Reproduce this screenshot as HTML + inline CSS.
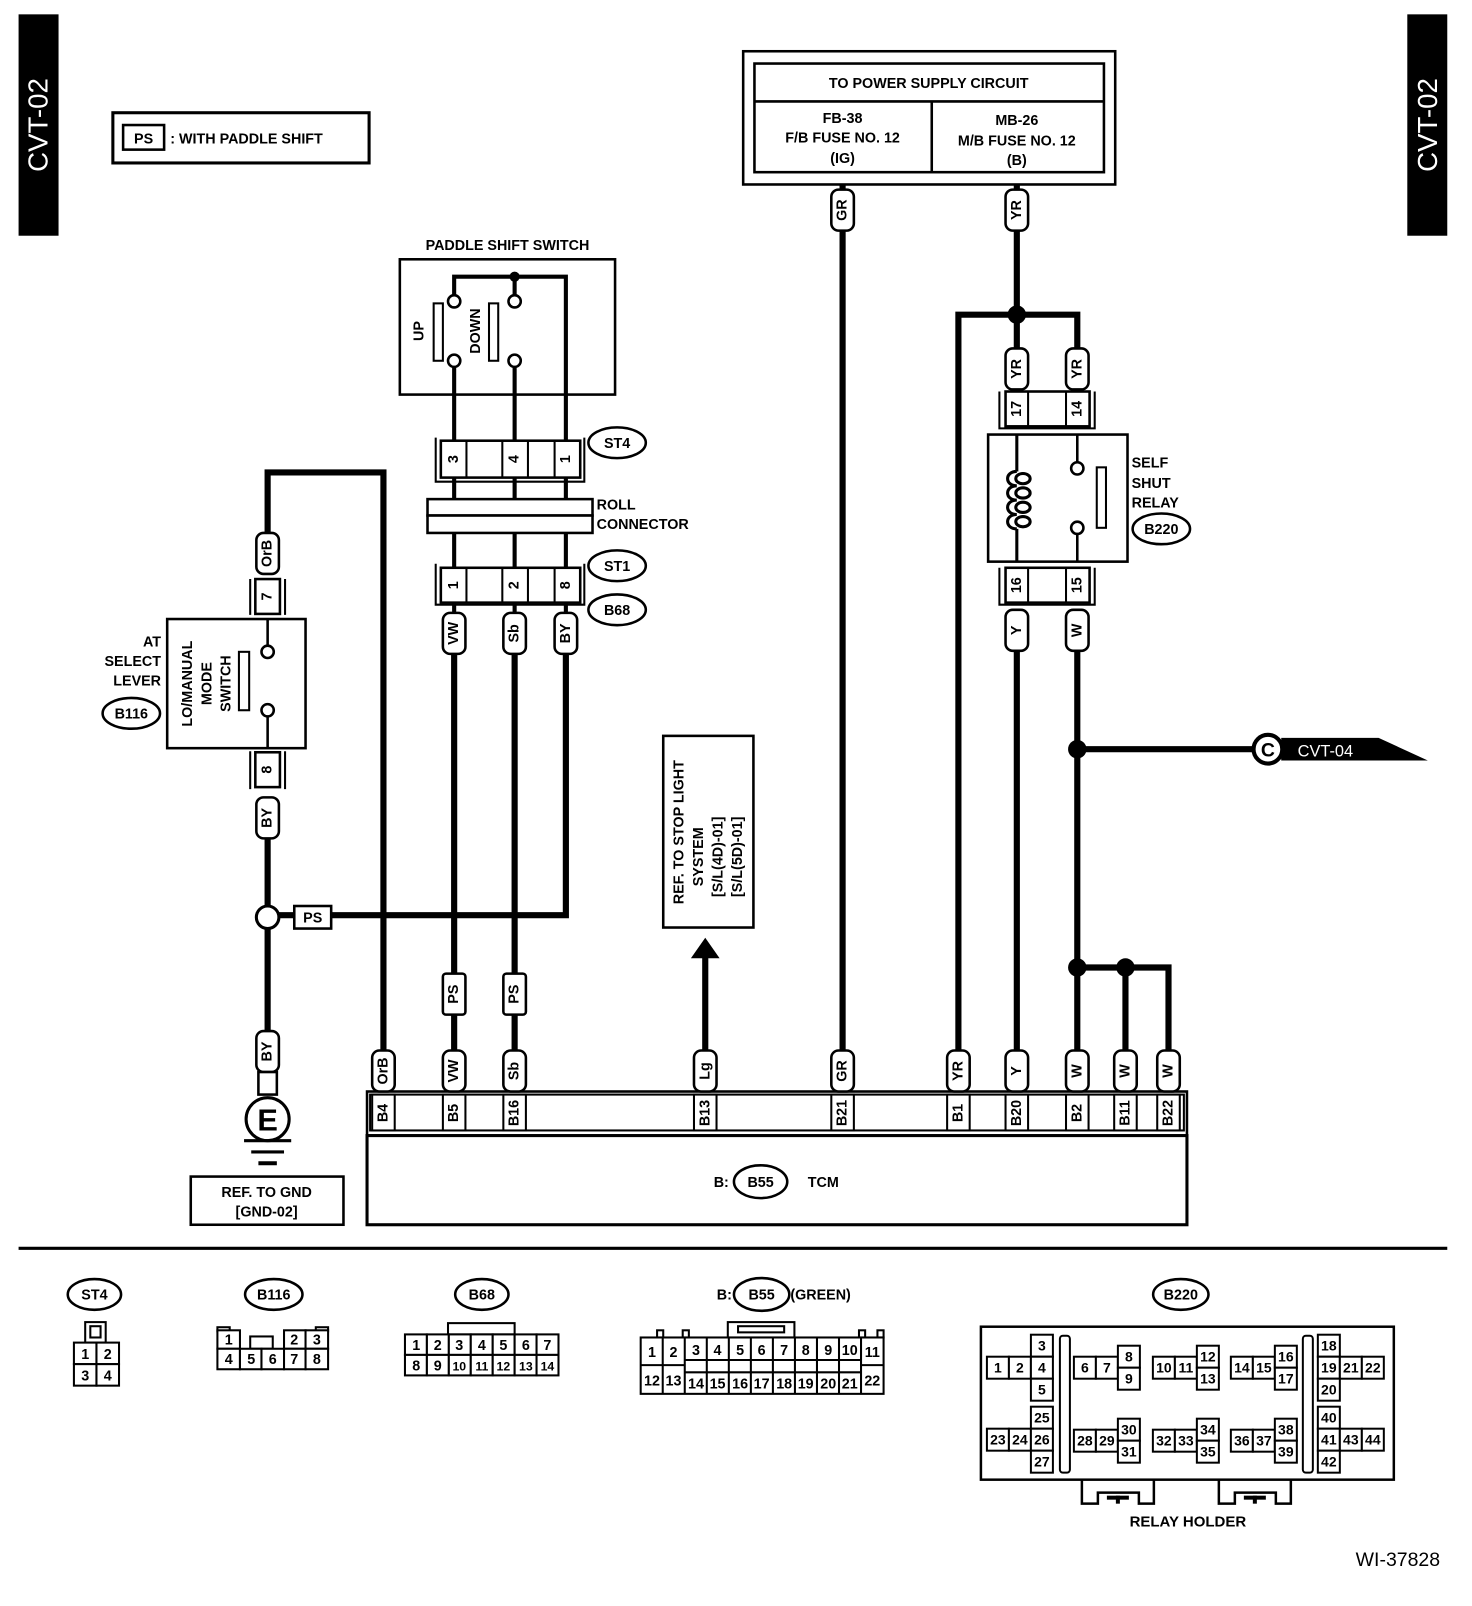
<!DOCTYPE html>
<html><head><meta charset="utf-8"><style>
html,body{margin:0;padding:0;background:#fff}
svg{display:block}
text{font-family:"Liberation Sans",sans-serif;font-weight:bold;font-size:14px;fill:#000}
.n{font-weight:normal;font-size:14px}
.w6{stroke:#000;stroke-width:6;fill:none}
.w4{stroke:#000;stroke-width:4;fill:none}
.b{stroke:#000;stroke-width:2.5;fill:#fff}
.t{stroke:#000;stroke-width:2;fill:#fff}
</style></head><body>
<svg width="1472" height="1606" viewBox="0 0 1436 1567" xmlns="http://www.w3.org/2000/svg">
<rect x="18" y="14" width="39" height="216" fill="#000"/>
<text transform="translate(46,122) rotate(-90)" text-anchor="middle" style="fill:#fff;font-size:27px;font-weight:normal">CVT-02</text>
<rect x="1373" y="14" width="39" height="216" fill="#000"/>
<text transform="translate(1402,122) rotate(-90)" text-anchor="middle" style="fill:#fff;font-size:27px;font-weight:normal">CVT-02</text>

<rect x="110" y="110" width="250" height="49" fill="none" stroke="#000" stroke-width="3"/>
<rect x="120" y="122" width="40" height="24" fill="none" stroke="#000" stroke-width="2.5"/>
<text x="140" y="140" text-anchor="middle">PS</text>
<text x="166" y="140" style="font-size:14px">: WITH PADDLE SHIFT</text>

<rect x="725" y="50" width="363" height="130" fill="none" stroke="#000" stroke-width="2.5"/>
<rect x="736" y="62" width="341" height="106" fill="none" stroke="#000" stroke-width="2.5"/>
<line x1="736" y1="99" x2="1077" y2="99" stroke="#000" stroke-width="2.5"/>
<line x1="909" y1="99" x2="909" y2="168" stroke="#000" stroke-width="2.5"/>
<text x="906" y="86" text-anchor="middle">TO POWER SUPPLY CIRCUIT</text>
<text x="822" y="120" text-anchor="middle">FB-38</text>
<text x="822" y="139" text-anchor="middle">F/B FUSE NO. 12</text>
<text x="822" y="159" text-anchor="middle">(IG)</text>
<text x="992" y="122" text-anchor="middle">MB-26</text>
<text x="992" y="142" text-anchor="middle">M/B FUSE NO. 12</text>
<text x="992" y="161" text-anchor="middle">(B)</text>

<g class="w6">
<line x1="822" y1="180" x2="822" y2="1030"/>
<line x1="992" y1="180" x2="992" y2="345"/>
<path d="M935,1030 V307 H1051 V345"/>
<line x1="992" y1="630" x2="992" y2="1030"/>
<line x1="1051" y1="630" x2="1051" y2="1030"/>
<line x1="1051" y1="731" x2="1225" y2="731"/>
<path d="M1051,944 H1140 V1030"/>
<line x1="1098" y1="944" x2="1098" y2="1030"/>
<line x1="443" y1="630" x2="443" y2="1030"/>
<line x1="502" y1="630" x2="502" y2="1030"/>
<path d="M552,630 V893 H272"/>
<path d="M261,525 V461 H374 V1030"/>
<line x1="261" y1="810" x2="261" y2="1010"/>
<line x1="688" y1="930" x2="688" y2="1030"/>
</g>
<circle cx="992" cy="307" r="9" fill="#000"/>
<circle cx="1051" cy="731" r="9" fill="#000"/>
<circle cx="1051" cy="944" r="9" fill="#000"/>
<circle cx="1098" cy="944" r="9" fill="#000"/>
<polygon points="674,935 702,935 688,915" fill="#000"/>

<polygon points="1250,720 1345,720 1393,742 1250,742" fill="#000"/>
<circle cx="1237" cy="731" r="14" fill="#fff" stroke="#000" stroke-width="4"/>
<text x="1237" y="738" text-anchor="middle" style="font-size:19px">C</text>
<text x="1266" y="738" style="fill:#fff;font-weight:normal;font-size:16px">CVT-04</text>

<text x="495" y="244" text-anchor="middle">PADDLE SHIFT SWITCH</text>
<rect x="390" y="253" width="210" height="132" fill="none" stroke="#000" stroke-width="2.5"/>
<g class="w4">
<path d="M443,288 V270 H552 V598"/>
<line x1="502" y1="270" x2="502" y2="288"/>
<line x1="443" y1="358" x2="443" y2="598"/>
<line x1="502" y1="358" x2="502" y2="598"/>
</g>
<circle cx="502" cy="270" r="5" fill="#000"/>
<circle cx="443" cy="294" r="6" class="b"/><circle cx="443" cy="352" r="6" class="b"/>
<circle cx="502" cy="294" r="6" class="b"/><circle cx="502" cy="352" r="6" class="b"/>
<rect x="423" y="296" width="9" height="56" class="t"/>
<rect x="477" y="296" width="9" height="56" class="t"/>
<text transform="translate(413,323) rotate(-90)" text-anchor="middle">UP</text>
<text transform="translate(468,323) rotate(-90)" text-anchor="middle">DOWN</text>

<path d="M425,427 V470 H570 V427" fill="none" stroke="#000" stroke-width="2"/>
<rect x="430" y="430" width="136" height="36" class="b"/>
<g stroke="#000" stroke-width="2"><line x1="455" y1="430" x2="455" y2="466"/><line x1="490" y1="430" x2="490" y2="466"/><line x1="515" y1="430" x2="515" y2="466"/><line x1="541" y1="430" x2="541" y2="466"/></g>
<text transform="translate(443,448) rotate(-90)" text-anchor="middle" dominant-baseline="central">3</text>
<text transform="translate(502,448) rotate(-90)" text-anchor="middle" dominant-baseline="central">4</text>
<text transform="translate(552,448) rotate(-90)" text-anchor="middle" dominant-baseline="central">1</text>
<ellipse cx="602" cy="432" rx="28" ry="15" class="b"/>
<text x="602" y="437" text-anchor="middle">ST4</text>

<rect x="417" y="487" width="161" height="16" class="b"/>
<rect x="417" y="503" width="161" height="17" class="b"/>
<text x="582" y="497">ROLL</text>
<text x="582" y="516">CONNECTOR</text>

<path d="M425,550 V590 H570 V550" fill="none" stroke="#000" stroke-width="2"/>
<rect x="430" y="554" width="136" height="34" class="b"/>
<g stroke="#000" stroke-width="2"><line x1="455" y1="554" x2="455" y2="588"/><line x1="490" y1="554" x2="490" y2="588"/><line x1="515" y1="554" x2="515" y2="588"/><line x1="541" y1="554" x2="541" y2="588"/></g>
<text transform="translate(443,571) rotate(-90)" text-anchor="middle" dominant-baseline="central">1</text>
<text transform="translate(502,571) rotate(-90)" text-anchor="middle" dominant-baseline="central">2</text>
<text transform="translate(552,571) rotate(-90)" text-anchor="middle" dominant-baseline="central">8</text>
<ellipse cx="602" cy="552" rx="28" ry="15" class="b"/>
<text x="602" y="557" text-anchor="middle">ST1</text>
<ellipse cx="602" cy="595" rx="28" ry="15" class="b"/>
<text x="602" y="600" text-anchor="middle">B68</text>

<g>
<rect x="432" y="598" width="22" height="40" rx="7" class="b"/><text transform="translate(443,618) rotate(-90)" text-anchor="middle" dominant-baseline="central">VW</text>
<rect x="491" y="598" width="22" height="40" rx="7" class="b"/><text transform="translate(502,618) rotate(-90)" text-anchor="middle" dominant-baseline="central">Sb</text>
<rect x="541" y="598" width="22" height="40" rx="7" class="b"/><text transform="translate(552,618) rotate(-90)" text-anchor="middle" dominant-baseline="central">BY</text>
<rect x="432" y="950" width="22" height="40" rx="3" class="b"/><text transform="translate(443,970) rotate(-90)" text-anchor="middle" dominant-baseline="central">PS</text>
<rect x="491" y="950" width="22" height="40" rx="3" class="b"/><text transform="translate(502,970) rotate(-90)" text-anchor="middle" dominant-baseline="central">PS</text>
<rect x="811" y="185" width="22" height="40" rx="7" class="b"/><text transform="translate(822,205) rotate(-90)" text-anchor="middle" dominant-baseline="central">GR</text>
<rect x="981" y="185" width="22" height="40" rx="7" class="b"/><text transform="translate(992,205) rotate(-90)" text-anchor="middle" dominant-baseline="central">YR</text>
<rect x="981" y="340" width="22" height="40" rx="7" class="b"/><text transform="translate(992,360) rotate(-90)" text-anchor="middle" dominant-baseline="central">YR</text>
<rect x="1040" y="340" width="22" height="40" rx="7" class="b"/><text transform="translate(1051,360) rotate(-90)" text-anchor="middle" dominant-baseline="central">YR</text>
<rect x="981" y="595" width="22" height="40" rx="7" class="b"/><text transform="translate(992,615) rotate(-90)" text-anchor="middle" dominant-baseline="central">Y</text>
<rect x="1040" y="595" width="22" height="40" rx="7" class="b"/><text transform="translate(1051,615) rotate(-90)" text-anchor="middle" dominant-baseline="central">W</text>
<rect x="250" y="520" width="22" height="40" rx="7" class="b"/><text transform="translate(261,540) rotate(-90)" text-anchor="middle" dominant-baseline="central">OrB</text>
<rect x="250" y="778" width="22" height="40" rx="7" class="b"/><text transform="translate(261,798) rotate(-90)" text-anchor="middle" dominant-baseline="central">BY</text>
<rect x="250" y="1006" width="22" height="40" rx="7" class="b"/><text transform="translate(261,1026) rotate(-90)" text-anchor="middle" dominant-baseline="central">BY</text>
</g>

<path d="M975,382 V418 H1068 V382" fill="none" stroke="#000" stroke-width="2"/>
<rect x="981" y="382" width="82" height="34" class="b"/>
<g stroke="#000" stroke-width="2"><line x1="1003" y1="382" x2="1003" y2="416"/><line x1="1040" y1="382" x2="1040" y2="416"/></g>
<text transform="translate(992,399) rotate(-90)" text-anchor="middle" dominant-baseline="central">17</text>
<text transform="translate(1051,399) rotate(-90)" text-anchor="middle" dominant-baseline="central">14</text>
<rect x="964" y="424" width="136" height="124" fill="none" stroke="#000" stroke-width="2.5"/>
<g fill="none" stroke="#000" stroke-width="3">
<path d="M992,424 V460 M992,516 V548"/>
<path d="M992,460 C980,460 980,474 992,474 M992,474 C980,474 980,488 992,488 M992,488 C980,488 980,502 992,502 M992,502 C980,502 980,516 992,516"/>
<ellipse cx="998" cy="467" rx="7" ry="5"/><ellipse cx="998" cy="481" rx="7" ry="5"/><ellipse cx="998" cy="495" rx="7" ry="5"/><ellipse cx="998" cy="509" rx="7" ry="5"/>
</g>
<g stroke="#000" stroke-width="2.5">
<line x1="1051" y1="424" x2="1051" y2="451"/>
<line x1="1051" y1="521" x2="1051" y2="548"/>
</g>
<circle cx="1051" cy="457" r="6" class="b"/><circle cx="1051" cy="515" r="6" class="b"/>
<rect x="1070" y="456" width="9" height="59" class="t"/>
<text x="1104" y="456">SELF</text>
<text x="1104" y="476">SHUT</text>
<text x="1104" y="495">RELAY</text>
<ellipse cx="1133" cy="516" rx="28" ry="15" class="b"/>
<text x="1133" y="521" text-anchor="middle">B220</text>
<path d="M975,554 V590 H1068 V554" fill="none" stroke="#000" stroke-width="2"/>
<rect x="981" y="554" width="82" height="34" class="b"/>
<g stroke="#000" stroke-width="2"><line x1="1003" y1="554" x2="1003" y2="588"/><line x1="1040" y1="554" x2="1040" y2="588"/></g>
<text transform="translate(992,571) rotate(-90)" text-anchor="middle" dominant-baseline="central">16</text>
<text transform="translate(1051,571) rotate(-90)" text-anchor="middle" dominant-baseline="central">15</text>

<path d="M244,565 V600 M278,565 V600" stroke="#000" stroke-width="2"/>
<rect x="249" y="565" width="24" height="34" class="b"/>
<text transform="translate(261,582) rotate(-90)" text-anchor="middle" dominant-baseline="central">7</text>
<rect x="163" y="604" width="135" height="126" fill="#fff" stroke="#000" stroke-width="2.5"/>
<g stroke="#000" stroke-width="2.5"><line x1="261" y1="604" x2="261" y2="630"/><line x1="261" y1="699" x2="261" y2="730"/></g>
<circle cx="261" cy="636" r="6" class="b"/><circle cx="261" cy="693" r="6" class="b"/>
<rect x="233" y="636" width="10" height="57" class="t"/>
<text transform="translate(187,667) rotate(-90)" text-anchor="middle">LO/MANUAL</text>
<text transform="translate(206,667) rotate(-90)" text-anchor="middle">MODE</text>
<text transform="translate(225,667) rotate(-90)" text-anchor="middle">SWITCH</text>
<text x="157" y="631" text-anchor="end">AT</text>
<text x="157" y="650" text-anchor="end">SELECT</text>
<text x="157" y="669" text-anchor="end">LEVER</text>
<ellipse cx="128" cy="696" rx="28" ry="15" class="b"/>
<text x="128" y="701" text-anchor="middle">B116</text>
<path d="M244,733 V770 M278,733 V770" stroke="#000" stroke-width="2"/>
<rect x="249" y="734" width="24" height="34" class="b"/>
<text transform="translate(261,751) rotate(-90)" text-anchor="middle" dominant-baseline="central">8</text>
<circle cx="261" cy="895" r="11" fill="#fff" stroke="#000" stroke-width="3"/>
<rect x="287" y="884" width="36" height="22" class="b"/>
<text x="305" y="900" text-anchor="middle">PS</text>
<rect x="252" y="1046" width="18" height="22" class="b"/>
<circle cx="261" cy="1092" r="21" fill="#fff" stroke="#000" stroke-width="3"/>
<text x="261" y="1103" text-anchor="middle" style="font-size:30px">E</text>
<g stroke="#000"><line x1="238" y1="1113" x2="284" y2="1113" stroke-width="3"/><line x1="245" y1="1124" x2="277" y2="1124" stroke-width="3"/><line x1="252" y1="1135" x2="270" y2="1135" stroke-width="4"/></g>
<rect x="186" y="1148" width="149" height="47" fill="none" stroke="#000" stroke-width="2.5"/>
<text x="260" y="1168" text-anchor="middle">REF. TO GND</text>
<text x="260" y="1187" text-anchor="middle">[GND-02]</text>

<rect x="647" y="718" width="88" height="187" fill="none" stroke="#000" stroke-width="2.5"/>
<text transform="translate(667,812) rotate(-90)" text-anchor="middle">REF. TO STOP LIGHT</text>
<text transform="translate(686,812) rotate(-90)" x="-24" text-anchor="middle">SYSTEM</text>
<text transform="translate(705,812) rotate(-90)" x="-24" text-anchor="middle">[S/L(4D)-01]</text>
<text transform="translate(724,812) rotate(-90)" x="-24" text-anchor="middle">[S/L(5D)-01]</text>

<rect x="358" y="1065" width="800" height="43" fill="none" stroke="#000" stroke-width="2.5"/>
<rect x="361" y="1068" width="794" height="35" fill="none" stroke="#000" stroke-width="2"/>
<rect x="358" y="1108" width="800" height="87" fill="none" stroke="#000" stroke-width="3"/>
<g>
<rect x="363" y="1025" width="22" height="40" rx="7" class="b"/><text transform="translate(374,1045) rotate(-90)" text-anchor="middle" dominant-baseline="central">OrB</text>
<rect x="363" y="1068" width="22" height="35" class="t"/><text transform="translate(374,1086) rotate(-90)" text-anchor="middle" dominant-baseline="central">B4</text>
<rect x="432" y="1025" width="22" height="40" rx="7" class="b"/><text transform="translate(443,1045) rotate(-90)" text-anchor="middle" dominant-baseline="central">VW</text>
<rect x="432" y="1068" width="22" height="35" class="t"/><text transform="translate(443,1086) rotate(-90)" text-anchor="middle" dominant-baseline="central">B5</text>
<rect x="491" y="1025" width="22" height="40" rx="7" class="b"/><text transform="translate(502,1045) rotate(-90)" text-anchor="middle" dominant-baseline="central">Sb</text>
<rect x="491" y="1068" width="22" height="35" class="t"/><text transform="translate(502,1086) rotate(-90)" text-anchor="middle" dominant-baseline="central">B16</text>
<rect x="677" y="1025" width="22" height="40" rx="7" class="b"/><text transform="translate(688,1045) rotate(-90)" text-anchor="middle" dominant-baseline="central">Lg</text>
<rect x="677" y="1068" width="22" height="35" class="t"/><text transform="translate(688,1086) rotate(-90)" text-anchor="middle" dominant-baseline="central">B13</text>
<rect x="811" y="1025" width="22" height="40" rx="7" class="b"/><text transform="translate(822,1045) rotate(-90)" text-anchor="middle" dominant-baseline="central">GR</text>
<rect x="811" y="1068" width="22" height="35" class="t"/><text transform="translate(822,1086) rotate(-90)" text-anchor="middle" dominant-baseline="central">B21</text>
<rect x="924" y="1025" width="22" height="40" rx="7" class="b"/><text transform="translate(935,1045) rotate(-90)" text-anchor="middle" dominant-baseline="central">YR</text>
<rect x="924" y="1068" width="22" height="35" class="t"/><text transform="translate(935,1086) rotate(-90)" text-anchor="middle" dominant-baseline="central">B1</text>
<rect x="981" y="1025" width="22" height="40" rx="7" class="b"/><text transform="translate(992,1045) rotate(-90)" text-anchor="middle" dominant-baseline="central">Y</text>
<rect x="981" y="1068" width="22" height="35" class="t"/><text transform="translate(992,1086) rotate(-90)" text-anchor="middle" dominant-baseline="central">B20</text>
<rect x="1040" y="1025" width="22" height="40" rx="7" class="b"/><text transform="translate(1051,1045) rotate(-90)" text-anchor="middle" dominant-baseline="central">W</text>
<rect x="1040" y="1068" width="22" height="35" class="t"/><text transform="translate(1051,1086) rotate(-90)" text-anchor="middle" dominant-baseline="central">B2</text>
<rect x="1087" y="1025" width="22" height="40" rx="7" class="b"/><text transform="translate(1098,1045) rotate(-90)" text-anchor="middle" dominant-baseline="central">W</text>
<rect x="1087" y="1068" width="22" height="35" class="t"/><text transform="translate(1098,1086) rotate(-90)" text-anchor="middle" dominant-baseline="central">B11</text>
<rect x="1129" y="1025" width="22" height="40" rx="7" class="b"/><text transform="translate(1140,1045) rotate(-90)" text-anchor="middle" dominant-baseline="central">W</text>
<rect x="1129" y="1068" width="22" height="35" class="t"/><text transform="translate(1140,1086) rotate(-90)" text-anchor="middle" dominant-baseline="central">B22</text>
</g>
<text x="711" y="1158" text-anchor="end">B:</text>
<ellipse cx="742" cy="1153" rx="26" ry="16" class="b"/>
<text x="742" y="1158" text-anchor="middle">B55</text>
<text x="788" y="1158">TCM</text>

<line x1="18" y1="1218" x2="1412" y2="1218" stroke="#000" stroke-width="3"/>

<ellipse cx="92" cy="1263" rx="26" ry="15" class="b"/><text x="92" y="1268" text-anchor="middle">ST4</text>
<rect x="83" y="1290" width="20" height="20" class="t"/><rect x="88" y="1294" width="10" height="11" class="t"/>
<g class="t"><rect x="72" y="1310" width="22" height="21"/><rect x="94" y="1310" width="22" height="21"/><rect x="72" y="1331" width="22" height="21"/><rect x="94" y="1331" width="22" height="21"/></g>
<g class="n" text-anchor="middle"><text x="83" y="1326">1</text><text x="105" y="1326">2</text><text x="83" y="1347">3</text><text x="105" y="1347">4</text></g>

<ellipse cx="267" cy="1263" rx="28" ry="15" class="b"/><text x="267" y="1268" text-anchor="middle">B116</text>
<g class="t">
<rect x="212" y="1295" width="12" height="4"/><rect x="308" y="1295" width="12" height="4"/>
<rect x="212" y="1298" width="22" height="18"/><rect x="244" y="1304" width="22" height="12"/>
<rect x="277" y="1298" width="21" height="18"/><rect x="298" y="1298" width="22" height="18"/>
<rect x="212" y="1316" width="22" height="20"/><rect x="234" y="1316" width="21" height="20"/><rect x="255" y="1316" width="22" height="20"/><rect x="277" y="1316" width="21" height="20"/><rect x="298" y="1316" width="22" height="20"/>
</g>
<g class="n" text-anchor="middle"><text x="223" y="1312">1</text><text x="287" y="1312">2</text><text x="309" y="1312">3</text>
<text x="223" y="1331">4</text><text x="245" y="1331">5</text><text x="266" y="1331">6</text><text x="287" y="1331">7</text><text x="309" y="1331">8</text></g>

<ellipse cx="470" cy="1263" rx="26" ry="15" class="b"/><text x="470" y="1268" text-anchor="middle">B68</text>
<rect x="437" y="1291" width="65" height="11" class="t"/>
<g class="t">
<rect x="395" y="1302" width="21.4" height="20"/><rect x="416.4" y="1302" width="21.4" height="20"/><rect x="437.8" y="1302" width="21.4" height="20"/><rect x="459.2" y="1302" width="21.4" height="20"/><rect x="480.6" y="1302" width="21.4" height="20"/><rect x="502" y="1302" width="21.4" height="20"/><rect x="523.4" y="1302" width="21.4" height="20"/>
<rect x="395" y="1322" width="21.4" height="20"/><rect x="416.4" y="1322" width="21.4" height="20"/><rect x="437.8" y="1322" width="21.4" height="20"/><rect x="459.2" y="1322" width="21.4" height="20"/><rect x="480.6" y="1322" width="21.4" height="20"/><rect x="502" y="1322" width="21.4" height="20"/><rect x="523.4" y="1322" width="21.4" height="20"/>
</g>
<g class="n" text-anchor="middle">
<text x="406" y="1317">1</text><text x="427" y="1317">2</text><text x="448" y="1317">3</text><text x="470" y="1317">4</text><text x="491" y="1317">5</text><text x="513" y="1317">6</text><text x="534" y="1317">7</text>
<text x="406" y="1337">8</text><text x="427" y="1337">9</text><text x="448" y="1337" style="font-size:12px">10</text><text x="470" y="1337" style="font-size:12px">11</text><text x="491" y="1337" style="font-size:12px">12</text><text x="513" y="1337" style="font-size:12px">13</text><text x="534" y="1337" style="font-size:12px">14</text></g>

<text x="714" y="1268" text-anchor="end">B:</text>
<ellipse cx="743" cy="1263" rx="27" ry="16" class="b"/><text x="743" y="1268" text-anchor="middle">B55</text>
<text x="771" y="1268">(GREEN)</text>
<rect x="710" y="1290" width="65" height="15" class="t"/><rect x="720" y="1294" width="45" height="6" class="t"/>
<g class="t">
<rect x="641" y="1298" width="6" height="7"/><rect x="666" y="1298" width="6" height="7"/><rect x="838" y="1298" width="6" height="7"/><rect x="856" y="1298" width="6" height="7"/>
<rect x="625" y="1305" width="237" height="55"/>
</g>
<g stroke="#000" stroke-width="2">
<line x1="668" y1="1327" x2="840" y2="1327"/><line x1="668" y1="1339" x2="840" y2="1339"/>
<line x1="625" y1="1332" x2="668" y2="1332"/><line x1="840" y1="1332" x2="862" y2="1332"/>
<line x1="646.5" y1="1305" x2="646.5" y2="1360"/><line x1="668" y1="1305" x2="668" y2="1360"/><line x1="689.5" y1="1305" x2="689.5" y2="1360"/><line x1="711" y1="1305" x2="711" y2="1360"/><line x1="732.5" y1="1305" x2="732.5" y2="1360"/><line x1="754" y1="1305" x2="754" y2="1360"/><line x1="775.5" y1="1305" x2="775.5" y2="1360"/><line x1="797" y1="1305" x2="797" y2="1360"/><line x1="818.5" y1="1305" x2="818.5" y2="1360"/><line x1="840" y1="1305" x2="840" y2="1360"/>
</g>
<g class="n" text-anchor="middle" style="font-size:13px">
<text x="636" y="1324">1</text><text x="657" y="1324">2</text><text x="679" y="1322">3</text><text x="700" y="1322">4</text><text x="722" y="1322">5</text><text x="743" y="1322">6</text><text x="765" y="1322">7</text><text x="786" y="1322">8</text><text x="808" y="1322">9</text><text x="829" y="1322">10</text><text x="851" y="1324">11</text>
<text x="636" y="1352">12</text><text x="657" y="1352">13</text><text x="679" y="1355">14</text><text x="700" y="1355">15</text><text x="722" y="1355">16</text><text x="743" y="1355">17</text><text x="765" y="1355">18</text><text x="786" y="1355">19</text><text x="808" y="1355">20</text><text x="829" y="1355">21</text><text x="851" y="1352">22</text></g>

<ellipse cx="1152" cy="1263" rx="27" ry="15" class="b"/><text x="1152" y="1268" text-anchor="middle">B220</text>
<g transform="scale(0.9755)">
<rect x="981" y="1327" width="413" height="153" class="b"/>
<rect x="1060" y="1336" width="10" height="137" rx="3" class="t"/>
<rect x="1303" y="1336" width="10" height="137" rx="3" class="t"/>
<g class="t">
<rect x="987" y="1357" width="22" height="22"/><rect x="1009" y="1357" width="22" height="22"/><rect x="1031" y="1335" width="22" height="22"/><rect x="1031" y="1357" width="22" height="22"/><rect x="1031" y="1379" width="22" height="22"/>
<rect x="987" y="1429" width="22" height="22"/><rect x="1009" y="1429" width="22" height="22"/><rect x="1031" y="1407" width="22" height="22"/><rect x="1031" y="1429" width="22" height="22"/><rect x="1031" y="1451" width="22" height="22"/>
<rect x="1074" y="1357" width="22" height="22"/><rect x="1096" y="1357" width="22" height="22"/><rect x="1118" y="1346" width="22" height="22"/><rect x="1118" y="1368" width="22" height="22"/>
<rect x="1153" y="1357" width="22" height="22"/><rect x="1175" y="1357" width="22" height="22"/><rect x="1197" y="1346" width="22" height="22"/><rect x="1197" y="1368" width="22" height="22"/>
<rect x="1231" y="1357" width="22" height="22"/><rect x="1253" y="1357" width="22" height="22"/><rect x="1275" y="1346" width="22" height="22"/><rect x="1275" y="1368" width="22" height="22"/>
<rect x="1074" y="1430" width="22" height="22"/><rect x="1096" y="1430" width="22" height="22"/><rect x="1118" y="1419" width="22" height="22"/><rect x="1118" y="1441" width="22" height="22"/>
<rect x="1153" y="1430" width="22" height="22"/><rect x="1175" y="1430" width="22" height="22"/><rect x="1197" y="1419" width="22" height="22"/><rect x="1197" y="1441" width="22" height="22"/>
<rect x="1231" y="1430" width="22" height="22"/><rect x="1253" y="1430" width="22" height="22"/><rect x="1275" y="1419" width="22" height="22"/><rect x="1275" y="1441" width="22" height="22"/>
<rect x="1318" y="1335" width="22" height="22"/><rect x="1318" y="1357" width="22" height="22"/><rect x="1340" y="1357" width="22" height="22"/><rect x="1362" y="1357" width="22" height="22"/><rect x="1318" y="1379" width="22" height="22"/>
<rect x="1318" y="1407" width="22" height="22"/><rect x="1318" y="1429" width="22" height="22"/><rect x="1340" y="1429" width="22" height="22"/><rect x="1362" y="1429" width="22" height="22"/><rect x="1318" y="1451" width="22" height="22"/>
</g>
<g class="n" text-anchor="middle" style="font-size:14px">
<text x="998" y="1373">1</text><text x="1020" y="1373">2</text><text x="1042" y="1351">3</text><text x="1042" y="1373">4</text><text x="1042" y="1395">5</text>
<text x="998" y="1445">23</text><text x="1020" y="1445">24</text><text x="1042" y="1423">25</text><text x="1042" y="1445">26</text><text x="1042" y="1467">27</text>
<text x="1085" y="1373">6</text><text x="1107" y="1373">7</text><text x="1129" y="1362">8</text><text x="1129" y="1384">9</text>
<text x="1164" y="1373">10</text><text x="1186" y="1373">11</text><text x="1208" y="1362">12</text><text x="1208" y="1384">13</text>
<text x="1242" y="1373">14</text><text x="1264" y="1373">15</text><text x="1286" y="1362">16</text><text x="1286" y="1384">17</text>
<text x="1085" y="1446">28</text><text x="1107" y="1446">29</text><text x="1129" y="1435">30</text><text x="1129" y="1457">31</text>
<text x="1164" y="1446">32</text><text x="1186" y="1446">33</text><text x="1208" y="1435">34</text><text x="1208" y="1457">35</text>
<text x="1242" y="1446">36</text><text x="1264" y="1446">37</text><text x="1286" y="1435">38</text><text x="1286" y="1457">39</text>
<text x="1329" y="1351">18</text><text x="1329" y="1373">19</text><text x="1351" y="1373">21</text><text x="1373" y="1373">22</text><text x="1329" y="1395">20</text>
<text x="1329" y="1423">40</text><text x="1329" y="1445">41</text><text x="1351" y="1445">43</text><text x="1373" y="1445">44</text><text x="1329" y="1467">42</text>
</g>
<g fill="none" stroke="#000" stroke-width="2.5">
<path d="M1082,1480 V1504 H1098 V1493 H1139 V1504 H1154 V1480"/>
<path d="M1219,1480 V1504 H1235 V1493 H1276 V1504 H1291 V1480"/>
</g>
<rect x="1107" y="1496" width="22" height="4" fill="#000"/><rect x="1116" y="1496" width="4" height="8" fill="#000"/>
<rect x="1244" y="1496" width="22" height="4" fill="#000"/><rect x="1253" y="1496" width="4" height="8" fill="#000"/>
<text x="1188" y="1527" text-anchor="middle" style="font-size:15px">RELAY HOLDER</text>
</g>
<text x="1405" y="1528" text-anchor="end" style="font-weight:normal;font-size:19px">WI-37828</text>
</svg>
</body></html>
